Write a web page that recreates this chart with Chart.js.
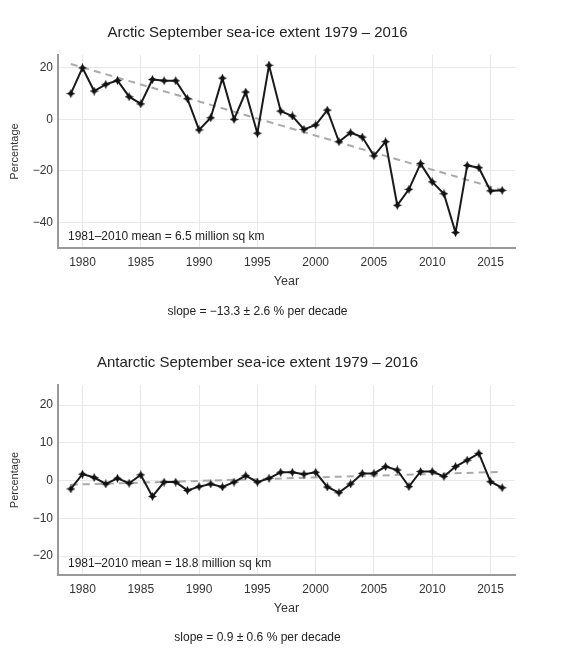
<!DOCTYPE html>
<html>
<head>
<meta charset="utf-8">
<script src="https://cdn.jsdelivr.net/npm/chart.js@4/dist/chart.umd.min.js"></script>
<style>
  html, body { margin:0; padding:0; background:#fff; }
  #wrap { position:relative; width:569px; height:657px; }
  canvas { position:absolute; left:0; }
</style>
</head>
<body>
<div id="wrap">
  <canvas id="arctic" width="569" height="330" style="top:0"></canvas>
  <canvas id="antarctic" width="569" height="327" style="top:330px"></canvas>
</div>
<script>
// --- data ---
const years = [1979,1980,1981,1982,1983,1984,1985,1986,1987,1988,1989,1990,1991,1992,1993,1994,1995,1996,1997,1998,
               1999,2000,2001,2002,2003,2004,2005,2006,2007,2008,2009,2010,2011,2012,2013,2014,2015,2016];

const arcticPct = [10, 20, 11, 13.6, 15.1, 8.8, 6, 15.5, 15, 15, 8, -4.1, 0.6, 16, 0, 10.6, -5.4, 21, 3.2, 1.3,
                   -3.9, -2.2, 3.6, -8.7, -5.2, -6.9, -14.2, -8.7, -33.4, -27.2, -17.2, -24.3, -28.9, -44, -17.9, -18.8, -27.8, -27.6];
const antarcticPct = [-2.2, 1.7, 0.8, -0.9, 0.6, -0.7, 1.5, -4.2, -0.4, -0.4, -2.6, -1.6, -0.9, -1.7, -0.4, 1.3, -0.4, 0.6, 2.2, 2.2,
                      1.7, 2.2, -1.7, -3.2, -0.9, 1.9, 1.9, 3.7, 2.8, -1.6, 2.4, 2.4, 1.1, 3.7, 5.4, 7.2, -0.3, -1.9];

const trendYears = [1979, 2016];
const arcticTrend = [21.5, -27.5];
const antarcticTrend = [-1.1, 2.3];

const xTicks = [1980,1985,1990,1995,2000,2005,2010,2015];
const arcticYTicks = [-40,-20,0,20];
const antarcticYTicks = [-20,-10,0,10,20];

const FONT = '"Liberation Sans", Arial, Helvetica, sans-serif';

// small 4-pointed star marker
function starMarker() {
  const c = document.createElement('canvas');
  c.width = 9; c.height = 9;
  const g = c.getContext('2d');
  g.fillStyle = '#111';
  g.beginPath();
  g.moveTo(4.5, 0); g.lineTo(6, 3); g.lineTo(9, 4.5); g.lineTo(6, 6);
  g.lineTo(4.5, 9); g.lineTo(3, 6); g.lineTo(0, 4.5); g.lineTo(3, 3);
  g.closePath(); g.fill();
  return c;
}
const marker = starMarker();

const meanNote = {
  id: 'meanNote',
  afterDatasetsDraw(chart, args, opts) {
    const { ctx, chartArea } = chart;
    ctx.save();
    ctx.font = '12px ' + FONT;
    ctx.fillStyle = '#222';
    ctx.textBaseline = 'middle';
    ctx.fillText(opts.text, chartArea.left + 10, chartArea.bottom - 11);
    ctx.restore();
  }
};

function makeChart(id, cfg) {
  const pts = years.map((y, i) => ({ x: y, y: cfg.values[i] }));
  const trend = trendYears.map((y, i) => ({ x: y, y: cfg.trend[i] }));
  return new Chart(document.getElementById(id), {
    type: 'line',
    data: {
      datasets: [
        {
          data: trend, order: 2,
          borderColor: '#aaa', borderWidth: 2, borderDash: [7, 5],
          pointRadius: 0, fill: false,
        },
        {
          data: pts, order: 1,
          borderColor: '#1a1a1a', borderWidth: 2,
          pointStyle: marker, pointRadius: 4.5, fill: false, tension: 0,
        }
      ]
    },
    options: {
      responsive: false,
      animation: false,
      devicePixelRatio: 1,
      layout: { padding: { left: 0, right: 54, top: 0, bottom: 0 } },
      plugins: {
        legend: { display: false },
        tooltip: { enabled: false },
        title: {
          display: true, text: cfg.title, color: '#222',
          font: { family: FONT, size: 15, weight: 'normal' },
          padding: { top: 24, bottom: 13 }
        },
        subtitle: {
          display: true, position: 'bottom', text: cfg.slope, color: '#222',
          font: { family: FONT, size: 12 },
          padding: { top: cfg.subTop, bottom: cfg.subBottom }
        },
        meanNote: { text: cfg.mean }
      },
      scales: {
        x: {
          type: 'linear', min: 1977.9, max: 2017.1,
          afterBuildTicks: s => { s.ticks = xTicks.map(v => ({ value: v })); },
          afterFit: s => { s.height = 41.5; },
          grid: { color: '#e8e8e8', drawTicks: false },
          border: { display: true, color: '#999', width: 2 },
          ticks: { color: '#333', font: { family: FONT, size: 12 }, padding: 7, maxRotation: 0,
                   callback: v => String(v) },
          title: { display: true, text: 'Year', color: '#333',
                   font: { family: FONT, size: 12.5 }, padding: { top: 0, bottom: 0 } }
        },
        y: {
          min: cfg.yMin, max: cfg.yMax,
          afterBuildTicks: s => { s.ticks = cfg.yTicks.map(v => ({ value: v })); },
          afterFit: s => { s.width = 58; },
          grid: { color: '#e8e8e8', drawTicks: false },
          border: { display: true, color: '#999', width: 2 },
          ticks: { color: '#333', font: { family: FONT, size: 12 }, padding: 5,
                   callback: v => (v < 0 ? '\u2212' + Math.abs(v) : String(v)) },
          title: { display: true, text: 'Percentage', color: '#333',
                   font: { family: FONT, size: 11 }, padding: { top: 8.5, bottom: 0 } }
        }
      }
    },
    plugins: [meanNote]
  });
}

makeChart('arctic', {
  title: 'Arctic September sea-ice extent 1979 \u2013 2016',
  slope: 'slope = \u221213.3 \u00b1 2.6 % per decade',
  mean: '1981\u20132010 mean = 6.5 million sq km',
  values: arcticPct, trend: arcticTrend,
  yMin: -50, yMax: 25, yTicks: arcticYTicks,
  subTop: 15.3, subBottom: 10.8
});

makeChart('antarctic', {
  title: 'Antarctic September sea-ice extent 1979 \u2013 2016',
  slope: 'slope = 0.9 \u00b1 0.6 % per decade',
  mean: '1981\u20132010 mean = 18.8 million sq km',
  values: antarcticPct, trend: antarcticTrend,
  yMin: -25, yMax: 25.3, yTicks: antarcticYTicks,
  subTop: 14.3, subBottom: 11.8
});
</script>
</body>
</html>
